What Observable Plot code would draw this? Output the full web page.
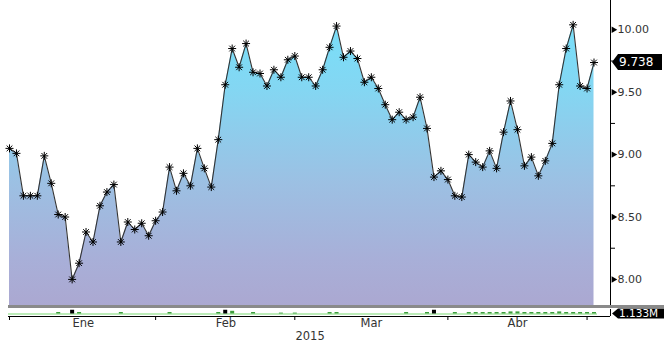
<!DOCTYPE html>
<html><head><meta charset="utf-8">
<script src="https://cdn.jsdelivr.net/npm/d3@7"></script>
<script src="https://cdn.jsdelivr.net/npm/@observablehq/plot@0.6"></script>
<style>
body{margin:0;background:#fff;}
#chart{position:relative;width:664px;height:345px;overflow:hidden;}
#chart svg{display:block;}
</style></head><body><div id="chart"></div>
<script>
// ---- data ----
const values = [9.05, 9.01, 8.67, 8.67, 8.67, 8.99, 8.77, 8.52, 8.50, 8.00,
  8.13, 8.38, 8.30, 8.59, 8.70, 8.76, 8.30, 8.46, 8.40, 8.45,
  8.35, 8.47, 8.54, 8.90, 8.71, 8.85, 8.75, 9.05, 8.89, 8.74,
  9.12, 9.56, 9.85, 9.70, 9.89, 9.66, 9.65, 9.55, 9.68, 9.62,
  9.76, 9.79, 9.62, 9.62, 9.55, 9.68, 9.86, 10.03, 9.78, 9.83,
  9.77, 9.58, 9.62, 9.53, 9.40, 9.28, 9.34, 9.28, 9.30, 9.46,
  9.21, 8.82, 8.87, 8.80, 8.67, 8.66, 9.00, 8.94, 8.90, 9.03,
  8.89, 9.18, 9.43, 9.20, 8.91, 8.98, 8.83, 8.95, 9.09, 9.56,
  9.85, 10.04, 9.55, 9.53, 9.738];
const volumes = [0, 0, 0, 0, 0, 0, 0, 1, 0, 2.5,
  1, 0, 0, 0, 0, 0, 1, 0, 0, 0,
  0, 0, 0, 1, 0, 0, 0, 0, 0, 0,
  1, 2.5, 1.8, 0, 0, 1, 0, 0, 0, 0.6,
  0, 0.6, 0, 0, 0, 0, 1, 1, 0, 0,
  0, 0, 0, 0, 0, 0, 0, 1, 0, 0,
  1, 2.5, 0, 0, 1, 0, 1, 1, 1, 1,
  1, 1, 1.4, 1.4, 1, 1, 1, 1, 1, 1.4,
  1, 1, 1, 1, 1];
const yTicksMajor = [8, 8.5, 9, 9.5, 10];
const yTicksMinor = [8.25, 8.75, 9.25, 9.75];
const monthBoundaries = [0, 21, 41, 63, 83];
const monthLabels = ["Ene", "Feb", "Mar", "Abr"];
const monthLabelPos = [10.6, 31.1, 52, 73];
const yearLabel = ["2015"];
const yearLabelPos = [43.2];
const lastLabel = "9.738";
const volLabel = "1.133M";

// ---- scales config ----
const xDomain = [-0.144, 86.37];
const yDomain = [7.791, 10.235];
const volDomain = [-1.667, 3];
const font = "'DejaVu Sans', sans-serif";

const series = values.map((v, i) => ({i, v}));
const vols = volumes.map((v, i) => ({i, v}));

const plotA = Plot.plot({
  width: 664, height: 309,
  marginLeft: 8, marginRight: 54, marginTop: 0, marginBottom: 4,
  x: {domain: xDomain, axis: null},
  y: {domain: yDomain, axis: null},
  style: {fontFamily: font, fontSize: "11px", color: "#333", background: "transparent", overflow: "visible"},
  marks: [
    Plot.areaY(series, {x: "i", y1: yDomain[0], y2: "v", fill: "url(#bgGrad)"}),
    Plot.lineY(series, {x: "i", y: "v", stroke: "#333", strokeWidth: 1.1}),
    Plot.dot(series, {x: "i", y: "v", symbol: "plus", r: 2.7, stroke: "#000", strokeWidth: 1}),
    Plot.dot(series, {x: "i", y: "v", symbol: "times", r: 2.7, stroke: "#000", strokeWidth: 1}),
    Plot.ruleX([xDomain[1]], {stroke: "#000", strokeWidth: 1}),
    Plot.axisY({anchor: "right", label: null, ticks: yTicksMinor, tickSize: 4, tickFormat: () => "", stroke: "#000"}),
    Plot.axisY({anchor: "right", label: null, ticks: yTicksMajor, tickSize: 0, tickPadding: 7, tickFormat: d3.format(".2f"), fill: "#333"}),
    Plot.dot(yTicksMajor, {x: () => xDomain[1], y: d => d, symbol: "triangle", rotate: 90, r: 2.4, fill: "#000", dx: 3})
  ]
});

const plotB = Plot.plot({
  width: 664, height: 36,
  marginLeft: 8, marginRight: 54, marginTop: 0, marginBottom: 29,
  x: {domain: xDomain, axis: null},
  y: {domain: volDomain, axis: null},
  style: {fontFamily: font, fontSize: "11.5px", color: "#333", background: "transparent", overflow: "visible"},
  marks: [
    Plot.ruleY([0], {x1: xDomain[0], x2: 84.5, stroke: "#a6e6a0", strokeWidth: 1.6}),
    Plot.ruleX(vols.filter(d => d.v > 0 && d.v < 2), {x: "i", y1: 0, y2: "v", stroke: "#3d9e3d", strokeWidth: 4}),
    Plot.ruleX(vols.filter(d => d.v >= 2), {x: "i", y1: 0, y2: "v", stroke: "#000", strokeWidth: 4}),
    Plot.ruleY([volDomain[0]], {stroke: "#000", strokeWidth: 1}),
    Plot.ruleX([xDomain[1]], {stroke: "#000", strokeWidth: 1}),
    Plot.axisX({anchor: "bottom", label: null, ticks: monthBoundaries, tickSize: 4, tickFormat: () => "", stroke: "#000"}),
    Plot.text(monthLabels, {x: (d, i) => monthLabelPos[i], frameAnchor: "bottom", dy: 10, fill: "#333"}),
    Plot.text(yearLabel, {x: (d, i) => yearLabelPos[i], frameAnchor: "bottom", dy: 23, fill: "#333"})
  ]
});

// gradient defs
const svgA = d3.select(plotA);
const defs = svgA.insert("defs", ":first-child");
const yA = plotA.scale("y");
const grad = defs.append("linearGradient").attr("id", "bgGrad")
  .attr("gradientUnits", "userSpaceOnUse")
  .attr("x1", 0).attr("x2", 0).attr("y1", yA.apply(yDomain[1])).attr("y2", yA.apply(yDomain[0]));
[[0, "#74e2fc"], [0.3, "#84d6f2"], [0.6, "#9cc0e3"], [0.85, "#a8afd8"], [1, "#aba8d1"]]
  .forEach(([o, c]) => grad.append("stop").attr("offset", o).attr("stop-color", c));

// gray separator band
const xA = plotA.scale("x");
svgA.append("line")
  .attr("x1", xA.apply(xDomain[0])).attr("x2", 664)
  .attr("y1", yA.apply(yDomain[0]) + 1.5).attr("y2", yA.apply(yDomain[0]) + 1.5)
  .attr("stroke", "#8a8a8a").attr("stroke-width", 3);

// tag helper
function tag(svg, x0, cy, h, w, text, fs) {
  const g = svg.append("g");
  g.append("path")
    .attr("d", `M${x0},${cy} L${x0 + 6},${cy - h / 2} L${x0 + w},${cy - h / 2} L${x0 + w},${cy + h / 2} L${x0 + 6},${cy + h / 2} Z`)
    .attr("fill", "#000");
  g.append("text").attr("x", x0 + 7).attr("y", cy).attr("dy", "0.36em")
    .attr("text-anchor", "start")
    .attr("fill", "#fff").attr("font-family", font).attr("font-size", fs).text(text);
}
const axX = xA.apply(xDomain[1]);
tag(svgA, axX + 2, yA.apply(values[values.length - 1]), 16, 50, lastLabel, "12px");

const svgB = d3.select(plotB);
const yB = plotB.scale("y");
tag(svgB, axX + 2, yB.apply(0), 10, 60, volLabel, "10.5px");

document.getElementById("chart").append(plotA, plotB);
</script>
</body></html>
